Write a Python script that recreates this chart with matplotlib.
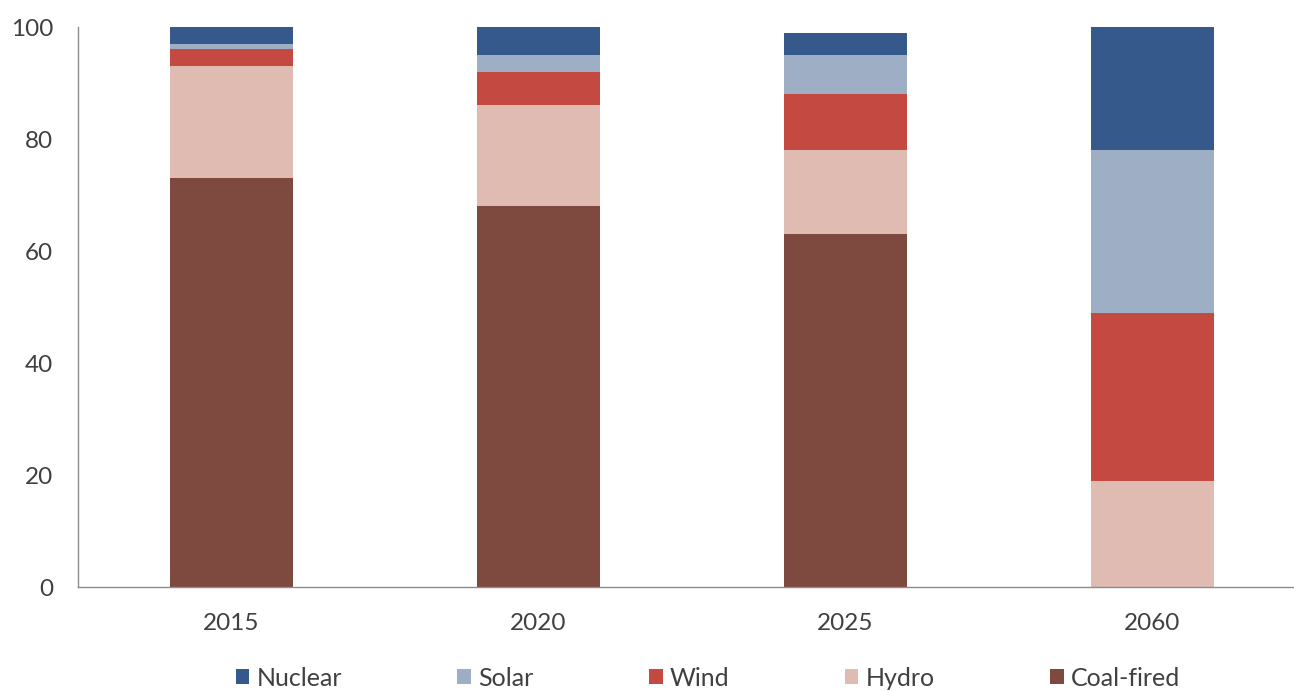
import numpy as np
import matplotlib.pyplot as plt

plt.rcParams['font.family'] = ['Lato', 'DejaVu Sans']

years = ['2015', '2020', '2025', '2060']
coal = [73, 68, 63, 0]
hydro = [20, 18, 15, 19]
wind = [3, 6, 10, 30]
solar = [1, 3, 7, 29]
nuclear = [3, 5, 4, 22]

series = [('Nuclear', nuclear, '#36598c'),
          ('Solar', solar, '#9eaec4'),
          ('Wind', wind, '#c44a41'),
          ('Hydro', hydro, '#e0bbb1'),
          ('Coal-fired', coal, '#7e4a40')]

fig = plt.figure(figsize=(12.94, 6.91), dpi=100)
ax = fig.add_axes([78 / 1294, 104 / 691, 1228 / 1294, 560 / 691])

x = np.arange(len(years))
bottom = np.zeros(len(years))
handles = {}
# stack from the bottom: coal first
for name, vals, col in reversed(series):
    b = ax.bar(x, vals, 0.4, bottom=bottom, color=col, label=name, linewidth=0)
    handles[name] = b
    bottom += np.array(vals)

ax.set_xlim(-0.5, 3.5)
ax.set_ylim(0, 100)
ax.set_yticks([0, 20, 40, 60, 80, 100])
ax.set_xticks(x)
ax.set_xticklabels(years)
ax.tick_params(length=0, labelsize=17.5, colors='#404040')
ax.tick_params(axis='x', pad=19)
ax.tick_params(axis='y', pad=18)
for s in ['top', 'right']:
    ax.spines[s].set_visible(False)
for s in ['left', 'bottom']:
    ax.spines[s].set_color('#8c8c8c')
    ax.spines[s].set_linewidth(1)

order = [s[0] for s in series]
fig.legend([handles[n] for n in order], order, loc='center',
           bbox_to_anchor=(708 / 1294, 1 - 678 / 691), ncol=5, frameon=False,
           fontsize=18, handlelength=0.55, handleheight=0.55, handletextpad=0.3,
           columnspacing=4.6, labelcolor='#404040')

fig.savefig('out.png', dpi=100)
